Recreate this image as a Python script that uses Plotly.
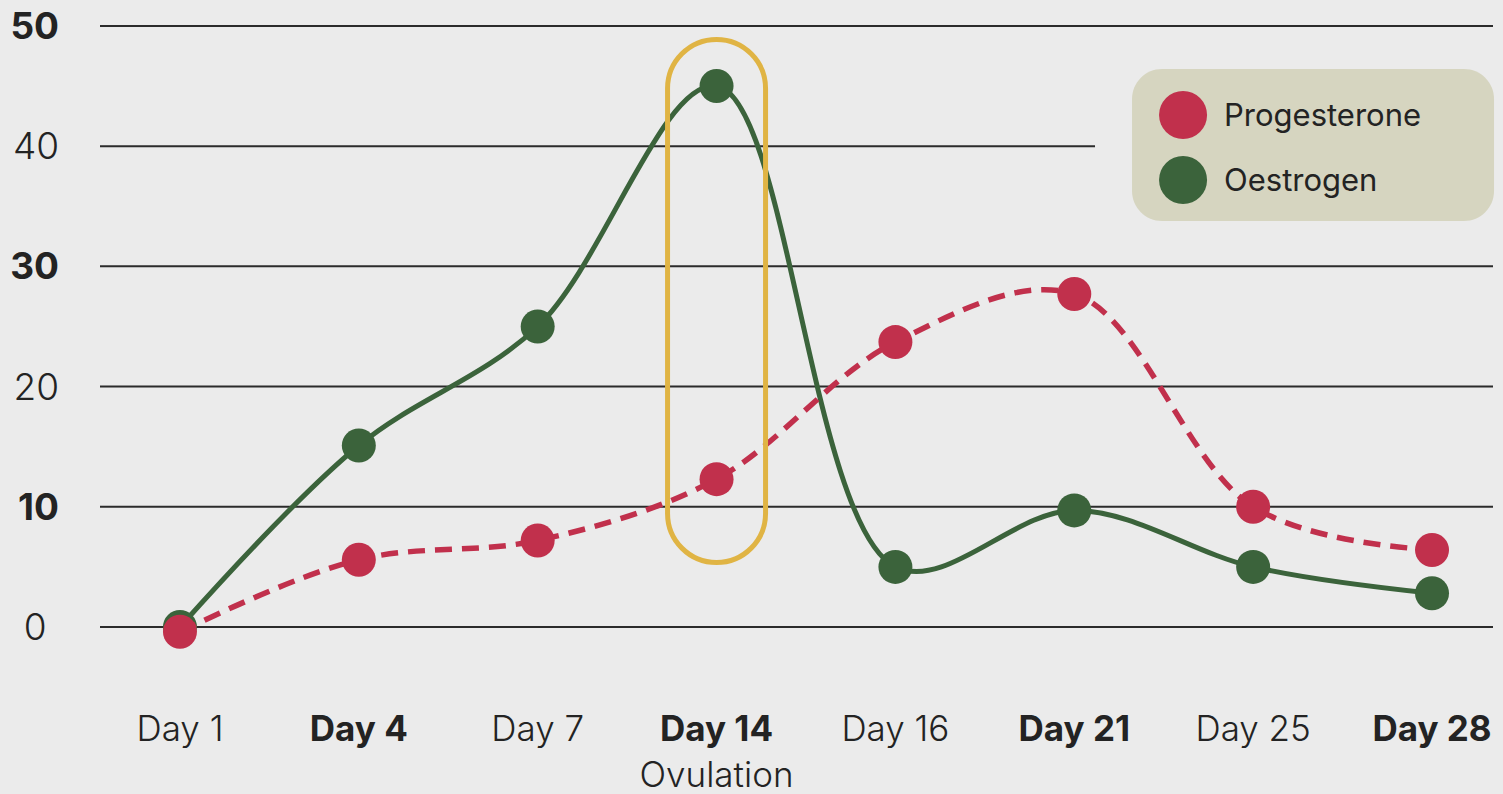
import plotly.graph_objects as go

# ---- data ----
days = ["Day 1", "Day 4", "Day 7", "Day 14", "Day 16", "Day 21", "Day 25", "Day 28"]
progesterone = [-0.4, 5.6, 7.2, 12.3, 23.7, 27.7, 10.0, 6.4]
oestrogen = [0.0, 15.1, 25.0, 45.0, 5.0, 9.7, 5.0, 2.8]
bold_days = ["Day 4", "Day 14", "Day 21", "Day 28"]
ovulation_note = "Ovulation"
y_ticks = [0, 10, 20, 30, 40, 50]
bold_y = [10, 30, 50]
highlight_day = "Day 14"
series_names = ["Progesterone", "Oestrogen"]

# ---- styles ----
BG = "#ebebeb"
RED = "#c1304c"
GREEN = "#3b633b"
GOLD = "#e0b444"
GRID = "#2b2b2b"
TEXT = "#232323"
LEGEND_BG = "#d6d5c0"
FONT = "Inter"
LIGHT_FONT = "Inter Light, Inter"


def bold(t):
    return f"<b><span style='font-family:Inter'>{t}</span></b>"


day_labels = []
for d in days:
    lab = bold(d) if d in bold_days else d
    if d == highlight_day:
        lab += "<br>" + ovulation_note
    day_labels.append(lab)
y_labels = [bold(v) if v in bold_y else (f"{v}\u2004" if v == 0 else str(v)) for v in y_ticks]

fig = go.Figure()

fig.add_trace(go.Scatter(
    x=days, y=oestrogen, name=series_names[1], mode="lines+markers",
    line=dict(color=GREEN, width=5, shape="spline", smoothing=1.0),
    marker=dict(size=34, color=GREEN), cliponaxis=False, showlegend=False))

fig.add_trace(go.Scatter(
    x=days, y=progesterone, name=series_names[0], mode="lines+markers",
    line=dict(color=RED, width=5.5, shape="spline", smoothing=1.0, dash="17px,10px"),
    marker=dict(size=34, color=RED), cliponaxis=False, showlegend=False))

shapes = []
# horizontal gridlines (the 40 line stops short of the legend box)
for v in y_ticks:
    shapes.append(dict(type="line", xref="paper", yref="y", x0=0,
                       x1=0.7143 if v == 40 else 1, y0=v, y1=v,
                       line=dict(color=GRID, width=2), layer="below"))

# ovulation highlight (stadium shape around the Day 14 points)
hw, hh, r = 49, 261.5, 49
k = 0.5523 * r
s = hh - r
path = (f"M {-hw},{s} L {-hw},{-s} "
        f"C {-hw},{-s - k} {-k},{-hh} 0,{-hh} "
        f"C {k},{-hh} {hw},{-s - k} {hw},{-s} "
        f"L {hw},{s} "
        f"C {hw},{s + k} {k},{hh} 0,{hh} "
        f"C {-k},{hh} {-hw},{s + k} {-hw},{s} Z")
days_index = days.index(highlight_day)
shapes.append(dict(type="path", xref="x", yref="y", xsizemode="pixel", ysizemode="pixel",
                   xanchor=days_index, yanchor=27.12, path=path,
                   line=dict(color=GOLD, width=5), fillcolor="rgba(0,0,0,0)", layer="above"))

# legend box (rounded rectangle)
bw, bh, br = 181, 76, 30
kb = 0.5523 * br
lpath = (f"M {-bw + br},{bh} L {bw - br},{bh} "
         f"C {bw - br + kb},{bh} {bw},{bh - br + kb} {bw},{bh - br} "
         f"L {bw},{-bh + br} "
         f"C {bw},{-bh + br - kb} {bw - br + kb},{-bh} {bw - br},{-bh} "
         f"L {-bw + br},{-bh} "
         f"C {-bw + br - kb},{-bh} {-bw},{-bh + br - kb} {-bw},{-bh + br} "
         f"L {-bw},{bh - br} "
         f"C {-bw},{bh - br + kb} {-bw + br - kb},{bh} {-bw + br},{bh} Z")
shapes.append(dict(type="path", xref="paper", yref="paper", xsizemode="pixel",
                   ysizemode="pixel", xanchor=0.8708, yanchor=0.7868, path=lpath,
                   line=dict(width=0), fillcolor=LEGEND_BG, layer="above"))

annotations = []
legend_colors = [RED, GREEN]
legend_y = [0.8309, 0.7353]
for name, col, ly in zip(series_names, legend_colors, legend_y):
    shapes.append(dict(type="circle", xref="paper", yref="paper", xsizemode="pixel",
                       ysizemode="pixel", xanchor=0.7775, yanchor=ly,
                       x0=-24, x1=24, y0=-24, y1=24,
                       line=dict(width=0), fillcolor=col, layer="above"))
    annotations.append(dict(text=name, xref="paper", yref="paper", x=0.8055, y=ly,
                            xanchor="left", yanchor="middle", showarrow=False,
                            font=dict(family=FONT, size=31, color=TEXT, weight=400)))

fig.update_layout(
    width=1503, height=794,
    margin=dict(l=100, r=10, t=0, b=114),
    paper_bgcolor=BG, plot_bgcolor=BG,
    shapes=shapes, annotations=annotations,
    font=dict(family=FONT, color=TEXT),
    xaxis=dict(type="category", categoryorder="array", categoryarray=days,
               range=[-0.447, 7.341], tickmode="array", tickvals=days, ticktext=day_labels,
               showgrid=False, zeroline=False, showline=False, ticks="",
               ticklabelstandoff=25, automargin=False,
               tickfont=dict(family=LIGHT_FONT, size=35, color=TEXT, weight=300)),
    yaxis=dict(range=[-4.41, 52.16], tickmode="array", tickvals=y_ticks, ticktext=y_labels,
               showgrid=False, zeroline=False, showline=False, ticks="",
               ticklabelstandoff=40, automargin=False,
               tickfont=dict(family=LIGHT_FONT, size=37, color=TEXT, weight=300)),
    showlegend=False,
)

fig.write_html("out.html")
